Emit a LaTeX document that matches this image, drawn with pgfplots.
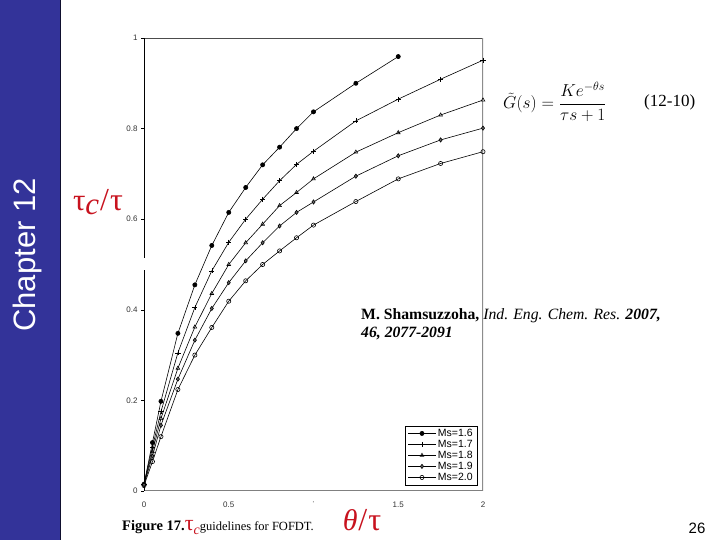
\documentclass[border=0pt]{standalone}
\usepackage{fontspec}
\setmainfont{Liberation Sans}
\newfontfamily\serif{Liberation Serif}
\usepackage{pgfplots}
\usepackage{pgfplotstable}
\pgfplotsset{compat=1.18}
\definecolor{chapblue}{RGB}{51,51,153}
\definecolor{slidered}{RGB}{200,18,30}

% tau_c/tau against theta/tau, one column per Ms
\pgfplotstableread{
x     m16    m17    m18    m19    m20
0     0.015  0.015  0.015  0.014  0.012
0.05  0.107  0.097  0.087  0.077  0.065
0.1   0.198  0.175  0.160  0.145  0.120
0.2   0.348  0.305  0.271  0.247  0.224
0.3   0.455  0.405  0.362  0.333  0.300
0.4   0.542  0.486  0.436  0.403  0.361
0.5   0.615  0.549  0.500  0.460  0.419
0.6   0.670  0.600  0.548  0.508  0.464
0.7   0.720  0.644  0.589  0.548  0.500
0.8   0.759  0.685  0.630  0.585  0.530
0.9   0.800  0.721  0.659  0.615  0.559
1.0   0.837  0.750  0.689  0.638  0.587
1.25  0.900  0.817  0.748  0.695  0.639
1.5   0.959  0.865  0.791  0.740  0.689
1.75  nan    0.909  0.830  0.775  0.723
2.0   nan    0.951  0.863  0.801  0.749
}\guides

\begin{document}
\begin{tikzpicture}[x=1pt,y=1pt]
\fill[white] (0,0) rectangle (720,540);
\path[use as bounding box] (0,0) rectangle (720,540);

% side bar
\fill[chapblue] (0,0) rectangle (60,540);
\draw[black!70!chapblue, line width=1pt] (60,0) -- (60,540);
\node[rotate=90, text=white, font=\fontsize{31}{31}\selectfont] at (27.5,285) {Chapter 12};

% citation (frame line runs over it)
\node[anchor=north west, align=left, inner sep=0pt,
      font=\serif\fontsize{15.7}{18}\selectfont] at (361,232)
  {\textbf{M. Shamsuzzoha,} \textit{Ind. Eng. Chem. Res.} \textbf{\textit{2007,}}\\
   \textbf{\textit{46, 2077-2091}}};

\begin{axis}[
  at={(144pt,49pt)}, anchor=south west,
  scale only axis, width=339pt, height=453pt,
  xmin=0, xmax=2, ymin=0, ymax=1,
  axis line style={draw=none},
  xtick={0,0.5,1,1.5,2},
  xticklabels={0,0.5,\textperiodcentered,1.5,2},
  ytick={0,0.2,0.4,0.6,0.8,1},
  yticklabels={0,0.2,0.4,0.6,0.8,1},
  ytick pos=left,
  x tick style={draw=none},
  y tick style={black, thin},
  tick align=outside,
  major tick length=3pt,
  tick label style={font=\fontsize{8}{8}\selectfont, text=black!80},
  xticklabel style={yshift=-4pt},
  /pgf/number format/assume math mode=true,
  every axis plot/.append style={black, line width=0.6pt, mark size=2.1pt},
  legend style={at={(0.985,0.013)}, anchor=south east,
    font=\fontsize{10.5}{10.5}\selectfont, draw=black, line width=0.5pt,
    inner xsep=3pt, inner ysep=1pt, row sep=-1.8pt,
    cells={anchor=west}},
  legend image code/.code={%
    \draw[mark repeat=2, mark phase=2, line width=0.6pt]
      plot coordinates {(0cm,0cm) (0.48cm,0cm) (0.96cm,0cm)};},
]
\addplot[mark=*, mark options={fill=black}] table[x=x, y=m16] {\guides};
\addlegendentry{Ms=1.6}
\addplot[mark=+, mark size=2.6pt] table[x=x, y=m17] {\guides};
\addlegendentry{Ms=1.7}
\addplot[mark=triangle, mark options={fill=white}] table[x=x, y=m18] {\guides};
\addlegendentry{Ms=1.8}
\addplot[mark=diamond*, mark options={fill=black!60}] table[x=x, y=m19] {\guides};
\addlegendentry{Ms=1.9}
\addplot[mark=o, mark options={fill=black!25}] table[x=x, y=m20] {\guides};
\addlegendentry{Ms=2.0}

% plot frame: black left side, grey elsewhere
\draw[black!70, line width=0.8pt] (axis cs:0,1) -- (axis cs:2,1);
\draw[black!45, line width=1.8pt] (axis cs:2,1) -- (axis cs:2,0);
\draw[black!50, line width=1.2pt] (axis cs:0,0) -- (axis cs:2,0);
\draw[black, line width=0.9pt] (axis cs:0,0) -- (axis cs:0,1);
\end{axis}

% break in the left axis line
\fill[white] (141,270) rectangle (147,282);

% red axis titles
\node[text=slidered, font=\serif\fontsize{31}{31}\selectfont, inner sep=0pt] at (98,338)
  {τ\raisebox{-4pt}{\itshape c}\hspace{1pt}\fontsize{32}{32}\selectfont/\hspace{1pt}τ};
\node[text=slidered, font=\serif\fontsize{30}{30}\selectfont, inner sep=0pt] at (362,20)
  {\textit{θ}\hspace{1pt}\fontsize{32}{32}\selectfont/\hspace{1pt}τ};

% figure caption
\node[anchor=base west, inner sep=0pt, font=\serif\fontsize{12.5}{12.5}\selectfont] at (122,9)
  {{\fontsize{14.5}{14.5}\selectfont\textbf{Figure 17.}}{\color{slidered}\fontsize{22}{22}\selectfont τ\raisebox{-4pt}{\fontsize{14}{14}\selectfont\itshape c}}guidelines for FOFDT.};

% model equation
\node[anchor=west, inner sep=0pt, font=\fontsize{17}{17}\selectfont] at (503,438)
  {$\displaystyle\tilde{G}(s)=\frac{Ke^{-\theta s}}{\tau s+1}$};
\node[anchor=west, inner sep=0pt, font=\serif\fontsize{17}{17}\selectfont] at (644,438) {(12-10)};

% slide number
\node[font=\fontsize{15}{15}\selectfont, inner sep=0pt] at (697,12) {26};
\end{tikzpicture}
\end{document}
